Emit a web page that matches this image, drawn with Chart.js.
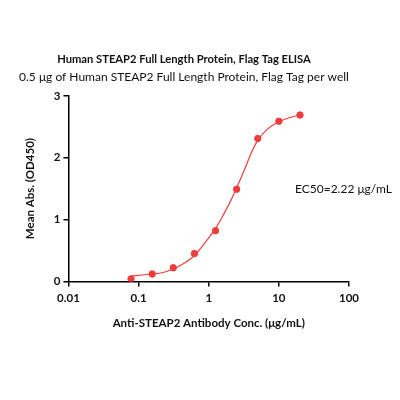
<!DOCTYPE html>
<html>
<head>
<meta charset="utf-8">
<script src="https://cdn.jsdelivr.net/npm/chart.js@4"></script>
<style>
  html, body { margin: 0; padding: 0; background: #fff; }
  #wrap { width: 400px; height: 400px; }
</style>
</head>
<body>
<div id="wrap"><canvas id="elisa"></canvas></div>
<script>
// measured points (conc in ug/mL, OD450)
var conc = [0.078, 0.156, 0.3125, 0.625, 1.25, 2.5, 5, 10, 20];
var od450 = [0.04, 0.12, 0.22, 0.45, 0.82, 1.49, 2.31, 2.59, 2.69];

// fitted curve
var fitConc = [0.078, 0.155, 0.216, 0.31, 0.44, 0.615, 0.906, 1.23, 1.66, 2.07, 2.45, 3.22, 4.02, 5.0, 7.0, 10.1, 14.3, 20];
var fitOd = [0.086, 0.12, 0.14, 0.20, 0.29, 0.41, 0.64, 0.84, 1.10, 1.31, 1.49, 1.80, 2.07, 2.28, 2.47, 2.58, 2.65, 2.69];

var xTicks = [0.01, 0.1, 1, 10, 100];
var yTicks = [0, 1, 2, 3];

var red = '#f03c3c';
var font = 'Lato, "Open Sans", sans-serif';

// EC50 label
var ec50Label = {
  id: 'ec50Label',
  afterDraw: function (chart) {
    var ctx = chart.ctx;
    ctx.save();
    ctx.font = '12px ' + font;
    ctx.fillStyle = '#111';
    ctx.textBaseline = 'middle';
    ctx.fillText('EC50=2.22 \u03bcg/mL', 295, 189);
    ctx.restore();
  }
};

new Chart(document.getElementById('elisa'), {
  type: 'scatter',
  data: {
    datasets: [
      {
        label: 'fit',
        data: fitConc.map(function (c, i) { return { x: c, y: fitOd[i] }; }),
        showLine: true,
        borderColor: red,
        borderWidth: 1.2,
        pointRadius: 0,
        cubicInterpolationMode: 'monotone'
      },
      {
        label: 'data',
        data: conc.map(function (c, i) { return { x: c, y: od450[i] }; }),
        backgroundColor: red,
        borderColor: red,
        pointRadius: 3.2,
        showLine: false
      }
    ]
  },
  options: {
    responsive: true,
    maintainAspectRatio: false,
    animation: false,
    layout: { padding: { left: 19, right: 51, top: 53, bottom: 66 } },
    plugins: {
      legend: { display: false },
      tooltip: { enabled: false },
      title: {
        display: true,
        text: 'Human STEAP2 Full Length Protein, Flag Tag ELISA',
        color: '#111',
        font: { family: font, size: 11.2, weight: 'bold' },
        padding: { top: 0, bottom: 3 }
      },
      subtitle: {
        display: true,
        text: '0.5 \u03bcg of Human STEAP2 Full Length Protein, Flag Tag per well',
        color: '#111',
        font: { family: font, size: 12 },
        padding: { top: 0, bottom: 12 }
      }
    },
    scales: {
      x: {
        type: 'logarithmic',
        min: 0.01,
        max: 100,
        afterBuildTicks: function (scale) {
          scale.ticks = xTicks.map(function (v) { return { value: v }; });
        },
        ticks: {
          color: '#111',
          font: { family: font, size: 11.5, weight: 'bold' },
          padding: 5,
          maxRotation: 0,
          callback: function (v) { return String(v); }
        },
        grid: { drawOnChartArea: false, drawTicks: true, tickLength: 5, color: '#000', lineWidth: 1.5 },
        border: { color: '#000', width: 1.5 },
        title: {
          display: true,
          text: 'Anti-STEAP2 Antibody Conc. (\u03bcg/mL)',
          color: '#111',
          font: { family: font, size: 11.5, weight: 'bold' },
          padding: { top: 6 }
        }
      },
      y: {
        min: 0,
        max: 3,
        afterBuildTicks: function (scale) {
          scale.ticks = yTicks.map(function (v) { return { value: v }; });
        },
        ticks: {
          color: '#111',
          font: { family: font, size: 11.5, weight: 'bold' },
          padding: 3
        },
        grid: { drawOnChartArea: false, drawTicks: true, tickLength: 5, color: '#000', lineWidth: 1.5 },
        border: { color: '#000', width: 1.5 },
        title: {
          display: true,
          text: 'Mean Abs. (OD450)',
          color: '#111',
          font: { family: font, size: 11.5, weight: 'bold' },
          padding: { bottom: 14 }
        }
      }
    }
  },
  plugins: [ec50Label]
});
</script>
</body>
</html>
